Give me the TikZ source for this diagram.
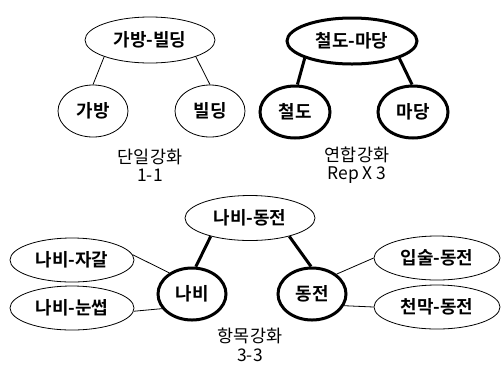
\documentclass[tikz,border=0pt]{standalone}
\usepackage{fontspec}
\setmainfont{Noto Sans CJK KR}[BoldFont={Noto Sans CJK KR Bold}]
\usetikzlibrary{shapes.geometric}
\tikzset{
  nd/.style 2 args={ellipse, draw, inner sep=0pt, minimum width=#1bp, minimum height=#2bp,
     font=\fontsize{18}{20}\selectfont\bfseries},
  thinline/.style={line width=0.8bp},
  heavy/.style={line width=3bp},
  captext/.style={align=center, font=\fontsize{17.5}{18.5}\selectfont}
}
\begin{document}
\begin{tikzpicture}[x=1bp,y=-1bp]
\useasboundingbox[fill=white] (0,0) rectangle (502,365);
% top left
\node[nd={130}{46}, thinline] (p1) at (150,40) {가방-빌딩};
\node[nd={70}{52}, thinline] (c1a) at (93,111) {가방};
\node[nd={70}{52}, thinline] (c1b) at (210,111) {빌딩};
\draw[thinline] (p1.200) -- (c1a.90);
\draw[thinline] (p1.340) -- (c1b.90);
\node[captext] (cap1) at (150,165) {단일강화\\1-1};
% top right
\node[nd={130}{46}, heavy] (p2) at (352,41) {철도-마당};
\node[nd={70}{52}, heavy] (c2a) at (295,112) {철도};
\node[nd={70}{52}, heavy] (c2b) at (413,112) {마당};
\draw[heavy] (p2.200) -- (c2a.85);
\draw[heavy] (p2.340) -- (c2b.92);
\node[captext] (cap2) at (357,165) {연합강화\\Rep X 3};
% bottom
\node[nd={130}{45}, thinline] (p3) at (250,218) {나비-동전};
\node[nd={68}{52}, heavy] (n) at (192,294) {나비};
\node[nd={68}{52}, heavy] (d) at (312,294) {동전};
\node[nd={124}{44}, thinline] (l1) at (72,260) {나비-자갈};
\node[nd={124}{44}, thinline] (l2) at (72,308) {나비-눈썹};
\node[nd={126}{44}, thinline] (r1) at (437,258) {입술-동전};
\node[nd={126}{44}, thinline] (r2) at (437,307) {천막-동전};
\draw[heavy] (p3.205) -- (n.82);
\draw[heavy] (p3.335) -- (d.92);
\draw[thinline] (l1.5) -- (n.137);
\draw[thinline] (l2.357) -- (n.206);
\draw[thinline] (d.39) -- (r1.180);
\draw[thinline] (d.340) -- (r2.180);
\node[captext] (cap3) at (250,345) {항목강화\\3-3};
\end{tikzpicture}
\end{document}
